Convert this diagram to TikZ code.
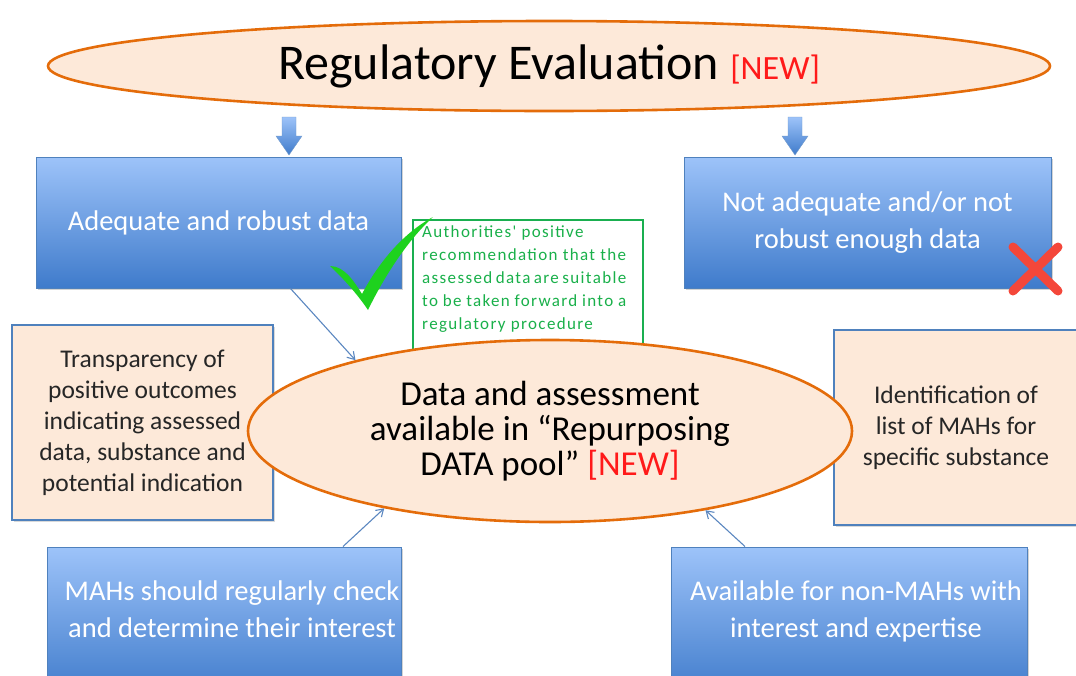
\documentclass[tikz,border=0pt]{standalone}
\usepackage{fontspec}
\setmainfont{Carlito}
\newfontfamily\greenfont[LetterSpace=8]{Carlito}
\usetikzlibrary{shadows,arrows.meta,calc,shapes.geometric}
\definecolor{peach}{HTML}{FDE9D9}
\definecolor{orng}{HTML}{E46C0A}
\definecolor{bluedge}{HTML}{4F81BD}
\definecolor{bluetop}{HTML}{9DC3F9}
\definecolor{bluebot}{HTML}{3F7BCB}
\definecolor{greenbox}{HTML}{1AAF50}
\definecolor{greentext}{HTML}{19B04A}
\definecolor{newred}{HTML}{FF1A1A}
\definecolor{checkgreen}{HTML}{1ED21E}
\definecolor{crossred}{HTML}{F4473A}
\definecolor{connblue}{HTML}{5B87C0}
\tikzset{
  bluebox/.style={rectangle, draw=bluedge, line width=1pt, top color=bluetop, bottom color=bluebot,
    text=white, align=center, drop shadow={opacity=0.35,shadow xshift=1.5pt,shadow yshift=-1.5pt},
    font=\fontsize{28.5}{37}\selectfont, inner sep=0pt},
  bluetext/.style={text=white, align=center, font=\fontsize{28.5}{37}\selectfont, inner sep=0pt},
  peachbox/.style={rectangle, draw=bluedge, line width=1.2pt, fill=peach, align=center,
    drop shadow={opacity=0.3,shadow xshift=1.5pt,shadow yshift=-1.5pt},
    font=\fontsize{25.5}{31}\selectfont, inner sep=0pt, text=black!85},
  oval/.style={ellipse, draw=orng, line width=2.6pt, fill=peach, inner sep=0pt, align=center},
  conn/.style={draw=connblue, line width=1.1pt, -{Straight Barb[length=7pt,width=9pt,line width=1.1pt]}},
  downarrow/.style={top color=bluetop, bottom color=bluebot, draw=bluedge!80, line width=0.4pt},
}
\begin{document}
\begin{tikzpicture}[x=1pt,y=-1pt]
\useasboundingbox (0,0) rectangle (1076,675);
\clip (0,0) rectangle (1076,675);
% top ellipse
\node[oval, minimum width=1002pt, minimum height=90pt] (reg) at (549,66)
  {\fontsize{50}{56}\selectfont Regulatory Evaluation \fontsize{34}{38}\selectfont\textcolor{newred}{[NEW]}};
% block arrows
\foreach \ax/\nm in {289/la, 795/ra}{
  \coordinate (\nm) at (\ax,117);
  \path[downarrow] ($(\nm)+(-7,0)$) -- ($(\nm)+(7,0)$) -- ($(\nm)+(7,19)$) -- ($(\nm)+(13,19)$)
     -- ($(\nm)+(0,38)$) -- ($(\nm)+(-13,19)$) -- ($(\nm)+(-7,19)$) -- cycle;
}
% blue boxes
\node[bluebox, minimum width=365pt, minimum height=131pt] (adeq) at (218.5,222.5) {Adequate and robust data};
\node[bluebox, minimum width=367pt, minimum height=131pt] (notadeq) at (867.5,222.5) {Not adequate and/or not\\robust enough data};
% green box
\node[draw=greenbox, line width=1.2pt, fill=white, minimum width=230pt, minimum height=140pt, inner sep=0pt] (green) at (528,290) {};
\node[anchor=north west, text=greentext, align=left, inner sep=0pt, font=\greenfont\fontsize{17}{23}\selectfont] (greentxt) at (422,225)
 {Authorities' positive\\
  \makebox[204pt][s]{recommendation that the}\\
  \makebox[204pt][s]{assessed data are suitable}\\
  \makebox[204pt][s]{to be taken forward into a}\\
  regulatory procedure};
% peach boxes
\node[peachbox, minimum width=261pt, minimum height=195pt] (transp) at (142.5,422.5)
  {Transparency of\\positive outcomes\\indicating assessed\\data, substance and\\potential indication};
\node[peachbox, minimum width=244pt, minimum height=195pt] (ident) at (956,427.5)
  {Identification of\\list of MAHs for\\specific substance};
% center ellipse
\node[oval, minimum width=604pt, minimum height=182pt, font=\fontsize{35}{35}\selectfont] (pool) at (550,431)
  {Data and assessment\\available in “Repurposing\\DATA pool” \textcolor{newred}{[NEW]}};
% bottom blue boxes
\node[bluebox, minimum width=354pt, minimum height=150pt] (mahs) at (224,622) {};
\node[bluetext] (mahstxt) at (232,609) {MAHs should regularly check\\and determine their interest};
\node[bluebox, minimum width=356pt, minimum height=150pt] (nonmahs) at (849,622) {};
\node[bluetext] (nonmahstxt) at (856,611) {Available for non-MAHs with\\interest and expertise};
% connectors
\draw[conn] ([xshift=72pt]adeq.south) -- (pool.160);
\draw[conn] ([xshift=119pt]mahs.north) -- (pool.205);
\draw[conn] ([xshift=-104pt]nonmahs.north) -- (pool.333);
% check mark
\fill[checkgreen] (330,266) .. controls (345,266) and (355,283) .. (362,294)
  .. controls (380,260) and (405,232) .. (433,217)
  .. controls (408,240) and (385,275) .. (368,310)
  .. controls (358,295) and (343,278) .. cycle;
% red cross
\draw[crossred, line width=9pt, line cap=round] (1013,247) -- (1058,291) (1058,247) -- (1013,291);
\end{tikzpicture}
\end{document}
